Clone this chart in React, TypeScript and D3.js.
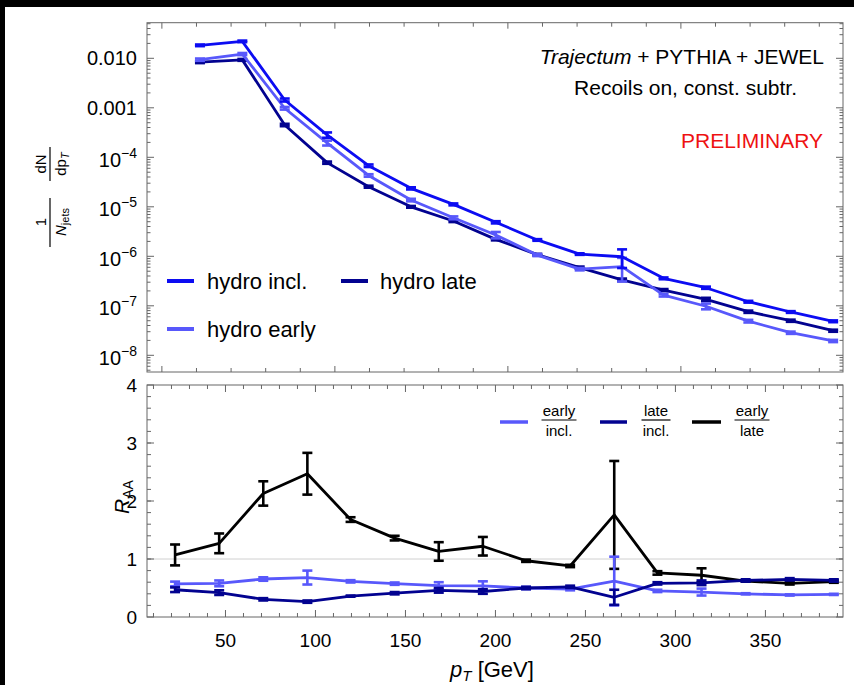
import React from "react";
import * as d3 from "d3";

const pT = [22, 46.5, 71, 95.5, 119.5, 144, 168.5, 193, 217, 241.5, 266, 290, 314.5, 339, 363.5, 388];

const hydroIncl = [0.0183, 0.022, 1.44e-3, 2.83e-4, 6.77e-5, 2.36e-5, 1.12e-5, 4.87e-6, 2.14e-6, 1.11e-6, 9.8e-7, 3.59e-7, 2.32e-7, 1.21e-7, 7.5e-8, 4.87e-8];
const hydroInclErr = [7e-4, 8e-4, 1.0e-4, 3.5e-5, 4e-6, 1.2e-6, 5e-7, 2.5e-7, 8e-8, 4e-8, 4e-7, 1.5e-8, 1.2e-8, 5e-9, 3e-9, 2e-9];
const hydroEarly = [9.4e-3, 0.0122, 9.8e-4, 1.95e-4, 4.3e-5, 1.37e-5, 6.0e-6, 2.7e-6, 1.06e-6, 5.5e-7, 6.2e-7, 1.64e-7, 9.8e-8, 4.9e-8, 2.86e-8, 1.95e-8];
const hydroEarlyErr = [5e-4, 6e-4, 6e-5, 2.2e-5, 2.5e-6, 8e-7, 4e-7, 4e-7, 5e-8, 3e-8, 3.1e-7, 1e-8, 1.3e-8, 3e-9, 1.5e-9, 1e-9];
const hydroLate = [8.4e-3, 9.3e-3, 4.5e-4, 7.8e-5, 2.55e-5, 1.0e-5, 5.17e-6, 2.2e-6, 1.08e-6, 5.9e-7, 3.35e-7, 2.08e-7, 1.35e-7, 7.6e-8, 5.0e-8, 3.14e-8];
const hydroLateErr = [4e-4, 4e-4, 2.5e-5, 4e-6, 1.2e-6, 4e-7, 2.5e-7, 1e-7, 4e-8, 3e-8, 2e-8, 1e-8, 1e-8, 4e-9, 2.5e-9, 1.5e-9];

const earlyIncl = [0.57, 0.58, 0.655, 0.68, 0.615, 0.575, 0.54, 0.535, 0.5, 0.48, 0.62, 0.45, 0.43, 0.4, 0.38, 0.39];
const earlyInclErr = [0.04, 0.05, 0.03, 0.12, 0.02, 0.02, 0.06, 0.08, 0.02, 0.02, 0.42, 0.02, 0.06, 0.01, 0.01, 0.01];
const lateIncl = [0.47, 0.42, 0.305, 0.265, 0.36, 0.41, 0.46, 0.44, 0.5, 0.52, 0.34, 0.58, 0.59, 0.63, 0.65, 0.63];
const lateInclErr = [0.04, 0.04, 0.02, 0.02, 0.01, 0.02, 0.04, 0.04, 0.02, 0.02, 0.13, 0.02, 0.04, 0.02, 0.02, 0.02];
const earlyLate = [1.07, 1.27, 2.13, 2.47, 1.68, 1.36, 1.13, 1.22, 0.97, 0.88, 1.76, 0.76, 0.72, 0.62, 0.58, 0.61];
const earlyLateErr = [0.18, 0.17, 0.21, 0.36, 0.04, 0.04, 0.16, 0.16, 0.02, 0.02, 0.93, 0.03, 0.12, 0.01, 0.02, 0.02];

const topYTicks = [1e-2, 1e-3, 1e-4, 1e-5, 1e-6, 1e-7, 1e-8];
const topYTickText = ["0.010", "0.001", "-4", "-5", "-6", "-7", "-8"];
const bottomYTicks = [0, 1, 2, 3, 4];
const bottomXTicks = [50, 100, 150, 200, 250, 300, 350];

const C_INCL = "#0c0cf2";
const C_EARLY = "#5858fb";
const C_LATE = "#020290";
const FONT = "'Liberation Sans', Arial, sans-serif";
const FRAME = "#666";

const L = 147, R = 843;
const TT = 22.7, TB = 372;
const BT = 385, BB = 617;

const xTop = d3.scaleLinear().domain([-8.6, 393.7]).range([L, R]);
const xBot = d3.scaleLinear().domain([6.4, 393.1]).range([L, R]);
const yTop = d3.scaleLog().domain([4.6e-9, 0.0524]).range([TB, TT]);
const yBot = d3.scaleLinear().domain([0, 4]).range([BB, BT]);

function Series({ xs, ys, errs, x, y, color }: any) {
  const line = d3.line<number>().x((_, i) => x(xs[i])).y((v) => y(v));
  return (
    <g>
      <path d={line(ys) || ""} fill="none" stroke={color} strokeWidth={2.8} strokeLinejoin="round" />
      {ys.map((v: number, i: number) => {
        const cx = x(xs[i]);
        const y1 = y(v + errs[i]);
        const y2 = y(Math.max(v - errs[i], 1e-12));
        return (
          <g key={i} stroke={color} strokeWidth={2.6}>
            <line x1={cx} x2={cx} y1={y1} y2={y2} />
            <line x1={cx - 5} x2={cx + 5} y1={y1} y2={y1} />
            <line x1={cx - 5} x2={cx + 5} y1={y2} y2={y2} />
          </g>
        );
      })}
    </g>
  );
}

function Frac({ x, y, num, den, w }: any) {
  return (
    <g fontFamily={FONT} fontSize={15} textAnchor="middle">
      <text x={x} y={y - 4}>{num}</text>
      <line x1={x - w / 2} x2={x + w / 2} y1={y} y2={y} stroke="#000" strokeWidth={1.2} />
      <text x={x} y={y + 16}>{den}</text>
    </g>
  );
}

export default function App() {
  const topMinorX = d3.range(0, 381, 20);
  const botMinorX = d3.range(10, 391, 10);
  const logMinor: number[] = [];
  for (let e = -9; e <= -2; e++) for (let k = 2; k <= 9; k++) {
    const v = k * Math.pow(10, e);
    if (v > 4.6e-9 && v < 0.0524) logMinor.push(v);
  }
  const botMinorY = d3.range(0.2, 4, 0.2);

  return (
    <div style={{ position: "fixed", left: 0, top: 0 }}>
      <svg width={854} height={685} style={{ display: "block", background: "#fff" }}>
        <rect x={0} y={0} width={854} height={7} fill="#000" />
        <rect x={0} y={0} width={5} height={685} fill="#000" />

        {/* TOP PANEL */}
        <g stroke={FRAME} strokeWidth={1}>
          <rect x={L} y={TT} width={R - L} height={TB - TT} fill="none" />
          {topMinorX.map((t) => {
            const len = t % 100 === 0 ? 6 : 4;
            return (
              <g key={"tx" + t}>
                <line x1={xTop(t)} x2={xTop(t)} y1={TB} y2={TB - len} />
                <line x1={xTop(t)} x2={xTop(t)} y1={TT} y2={TT + len} />
              </g>
            );
          })}
          {topYTicks.map((t) => (
            <g key={"ty" + t}>
              <line x1={L} x2={L + 7} y1={yTop(t)} y2={yTop(t)} />
              <line x1={R} x2={R - 7} y1={yTop(t)} y2={yTop(t)} />
            </g>
          ))}
          {logMinor.map((t) => (
            <g key={"tm" + t}>
              <line x1={L} x2={L + 3.5} y1={yTop(t)} y2={yTop(t)} />
              <line x1={R} x2={R - 3.5} y1={yTop(t)} y2={yTop(t)} />
            </g>
          ))}
        </g>
        <g fontFamily={FONT} fill="#000" textAnchor="end">
          {topYTicks.map((t, i) =>
            i < 2 ? (
              <text key={"tl" + i} x={137} y={yTop(t) + 7} fontSize={20}>{topYTickText[i]}</text>
            ) : (
              <text key={"tl" + i} x={137} y={yTop(t) + 9.5} fontSize={20}>
                10<tspan dy={-9} fontSize={14}>{topYTickText[i].replace("-", "\u2212")}</tspan>
              </text>
            )
          )}
        </g>

        <Series xs={pT} ys={hydroLate} errs={hydroLateErr} x={xTop} y={yTop} color={C_LATE} />
        <Series xs={pT} ys={hydroEarly} errs={hydroEarlyErr} x={xTop} y={yTop} color={C_EARLY} />
        <Series xs={pT} ys={hydroIncl} errs={hydroInclErr} x={xTop} y={yTop} color={C_INCL} />

        <g fontFamily={FONT} fontSize={21} textAnchor="end" fill="#000">
          <text x={824} y={64}>
            <tspan fontStyle="italic">Trajectum</tspan> + PYTHIA + JEWEL
          </text>
          <text x={797} y={95}>Recoils on, const. subtr.</text>
          <text x={823} y={148} fill="#ee1111">PRELIMINARY</text>
        </g>

        <g fontFamily={FONT} fontSize={22} fill="#000">
          <line x1={167} x2={194} y1={281} y2={281} stroke={C_INCL} strokeWidth={4} />
          <text x={207} y={289}>hydro incl.</text>
          <line x1={341} x2={368} y1={281} y2={281} stroke={C_LATE} strokeWidth={4} />
          <text x={380} y={289}>hydro late</text>
          <line x1={167} x2={194} y1={329} y2={329} stroke={C_EARLY} strokeWidth={4} />
          <text x={207} y={337}>hydro early</text>
        </g>

        <g transform="translate(50,193) rotate(-90)" fontFamily={FONT} fontSize={15} textAnchor="middle">
          <text x={-29} y={-4}>1</text>
          <line x1={-54} x2={-5} y1={0} y2={0} stroke="#000" strokeWidth={1.2} />
          <text x={-29} y={16}>
            <tspan fontStyle="italic">N</tspan>
            <tspan fontSize={11} dy={3}>jets</tspan>
          </text>
          <text x={29} y={-4}>dN</text>
          <line x1={12} x2={46} y1={0} y2={0} stroke="#000" strokeWidth={1.2} />
          <text x={29} y={16}>
            dp<tspan fontSize={11} dy={3} fontStyle="italic">T</tspan>
          </text>
        </g>

        {/* BOTTOM PANEL */}
        <line x1={L} x2={R} y1={yBot(1)} y2={yBot(1)} stroke="#d0d0d0" strokeWidth={1} />
        <g stroke={FRAME} strokeWidth={1}>
          <rect x={L} y={BT} width={R - L} height={BB - BT} fill="none" />
          {botMinorX.map((t) => {
            const len = t % 50 === 0 ? 7 : 4;
            return (
              <g key={"bx" + t}>
                <line x1={xBot(t)} x2={xBot(t)} y1={BB} y2={BB - len} />
                <line x1={xBot(t)} x2={xBot(t)} y1={BT} y2={BT + len} />
              </g>
            );
          })}
          {bottomYTicks.map((t) => (
            <g key={"by" + t}>
              <line x1={L} x2={L + 7} y1={yBot(t)} y2={yBot(t)} />
              <line x1={R} x2={R - 7} y1={yBot(t)} y2={yBot(t)} />
            </g>
          ))}
          {botMinorY.map((t) => (
            <g key={"bm" + t}>
              <line x1={L} x2={L + 4} y1={yBot(t)} y2={yBot(t)} />
              <line x1={R} x2={R - 4} y1={yBot(t)} y2={yBot(t)} />
            </g>
          ))}
        </g>
        <g fontFamily={FONT} fontSize={19} fill="#000">
          {bottomYTicks.map((t) => (
            <text key={"byl" + t} x={137} y={yBot(t) + 7} textAnchor="end">{t}</text>
          ))}
          {bottomXTicks.map((t) => (
            <text key={"bxl" + t} x={xBot(t)} y={647} textAnchor="middle">{t}</text>
          ))}
        </g>

        <Series xs={pT} ys={earlyLate} errs={earlyLateErr} x={xBot} y={yBot} color="#000" />
        <Series xs={pT} ys={earlyIncl} errs={earlyInclErr} x={xBot} y={yBot} color={C_EARLY} />
        <Series xs={pT} ys={lateIncl} errs={lateInclErr} x={xBot} y={yBot} color={C_LATE} />

        <g>
          <line x1={500} x2={528} y1={422} y2={422} stroke={C_EARLY} strokeWidth={3.5} />
          <Frac x={559} y={420} num="early" den="incl." w={35} />
          <line x1={600} x2={627} y1={422} y2={422} stroke={C_LATE} strokeWidth={3.5} />
          <Frac x={656} y={420} num="late" den="incl." w={29} />
          <line x1={692} x2={721} y1={422} y2={422} stroke="#000" strokeWidth={3.5} />
          <Frac x={752} y={420} num="early" den="late" w={35} />
        </g>

        <g transform="translate(129,498) rotate(-90)" fontFamily={FONT} fontSize={21}>
          <text x={-16} y={0}>
            <tspan fontStyle="italic">R</tspan>
            <tspan fontSize={14} dy={4}>AA</tspan>
          </text>
        </g>

        <text x={492} y={677} fontFamily={FONT} fontSize={22} textAnchor="middle">
          <tspan fontStyle="italic">p</tspan>
          <tspan fontStyle="italic" fontSize={15} dy={4}>T</tspan>
          <tspan dy={-4}> [GeV]</tspan>
        </text>
      </svg>
    </div>
  );
}
